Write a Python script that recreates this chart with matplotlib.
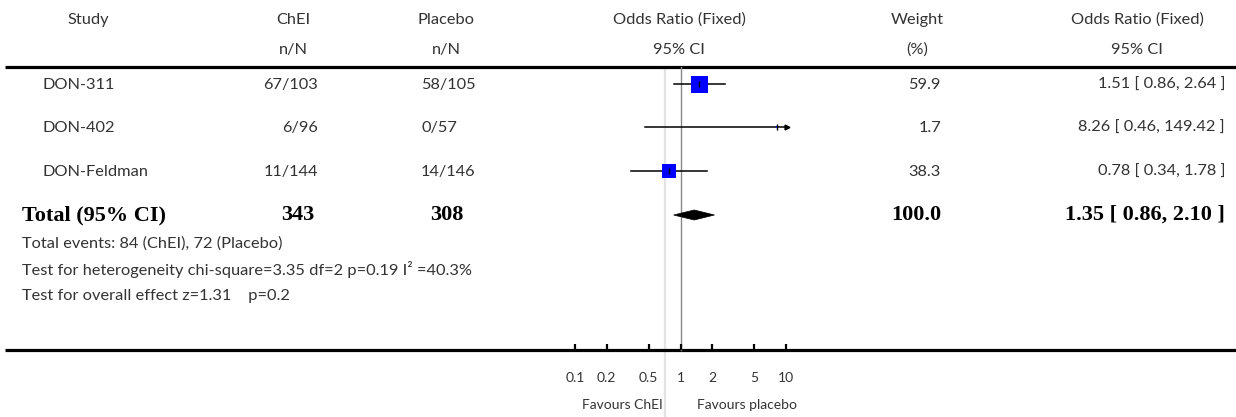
import numpy as np
import matplotlib
matplotlib.use("Agg")
import matplotlib.pyplot as plt
from matplotlib.patches import Polygon

# Study data
studies = ["DON-311", "DON-402", "DON-Feldman"]
chei_events = [67, 6, 11]
chei_total = [103, 96, 144]
placebo_events = [58, 0, 14]
placebo_total = [105, 57, 146]
weights = [59.9, 1.7, 38.3]
odds_ratio = [1.51, 8.26, 0.78]
ci_low = [0.86, 0.46, 0.34]
ci_high = [2.64, 149.42, 1.78]

# Pooled result
total_chei = 343
total_placebo = 308
total_weight = 100.0
total_or = 1.35
total_low = 0.86
total_high = 2.10
events_chei = 84
events_placebo = 72

axis_ticks = [0.1, 0.2, 0.5, 1, 2, 5, 10]
axis_labels = ["0.1", "0.2", "0.5", "1", "2", "5", "10"]

# Layout in pixels
W, H = 1236, 417
x_one = 680.5        # pixel position of OR = 1
px_decade = 105.5    # pixels per decade on the log axis
row_y = [84, 127, 171]
total_y = 215
top_line_y = 67
axis_y = 350

sans = ["Lato", "DejaVu Sans"]
serif = ["Liberation Serif", "DejaVu Serif"]
txt_col = "#333333"
fs = 11.8
fs_bold = 16

fig = plt.figure(figsize=(W / 100, H / 100), dpi=100)

# text layer in pixel coordinates
ax_t = fig.add_axes([0, 0, 1, 1])
ax_t.set_xlim(0, W)
ax_t.set_ylim(H, 0)
ax_t.axis("off")

# forest layer: log x scale mapped onto the same pixels
ax = fig.add_axes([0, 0, 1, 1])
ax.set_xscale("log")
ax.set_xlim(10 ** ((0 - x_one) / px_decade), 10 ** ((W - x_one) / px_decade))
ax.set_ylim(H, 0)
ax.axis("off")
ax.patch.set_alpha(0)


def t(x, y, s, ha="left", bold=False, size=None):
    if bold:
        ax_t.text(x, y, s, ha=ha, va="center", fontsize=fs_bold, family=serif,
                  fontweight="bold", color="black")
    else:
        ax_t.text(x, y, s, ha=ha, va="center", fontsize=size or fs, family=sans, color=txt_col)


# headers
t(88, 20, "Study", ha="center")
t(293, 20, "ChEI", ha="center")
t(293, 50, "n/N", ha="center")
t(446, 20, "Placebo", ha="center")
t(446, 50, "n/N", ha="center")
t(679, 20, "Odds Ratio (Fixed)", ha="center")
t(679, 50, "95% CI", ha="center")
t(917, 20, "Weight", ha="center")
t(917, 50, "(%)", ha="center")
t(1137, 20, "Odds Ratio (Fixed)", ha="center")
t(1137, 50, "95% CI", ha="center")

# horizontal rules
ax_t.plot([5, W], [top_line_y, top_line_y], color="black", lw=2.3, solid_capstyle="butt")
ax_t.plot([5, W], [axis_y, axis_y], color="black", lw=2.3, solid_capstyle="butt")

# faint separator line
ax_t.plot([665, 665], [top_line_y, H], color="#e3e3e3", lw=1.6, zorder=0)

# line of no effect
ax.plot([1, 1], [top_line_y, axis_y], color="#888888", lw=1.0, zorder=1)

x_max = axis_ticks[-1]
for i, name in enumerate(studies):
    y = row_y[i]
    t(43, y + 1, name)
    t(318, y + 1, f"{chei_events[i]}/{chei_total[i]}", ha="right")
    t(421, y + 1, f"{placebo_events[i]}/{placebo_total[i]}")
    t(941, y + 1, f"{weights[i]:.1f}", ha="right")
    t(1225, y + 1, f"{odds_ratio[i]:.2f} [ {ci_low[i]:.2f}, {ci_high[i]:.2f} ]", ha="right")

    hi = ci_high[i]
    if hi > x_max:
        ax.plot([ci_low[i], x_max * 1.02], [y, y], color="black", lw=1.1, zorder=2)
        ax.plot([x_max * 1.02], [y], marker=">", color="black", markersize=3.5, zorder=2)
    else:
        ax.plot([ci_low[i], hi], [y, y], color="black", lw=1.1, zorder=2)
    side_px = 17 * np.sqrt(weights[i] / weights[0])
    ax.plot([odds_ratio[i]], [y], marker="s", color="#0000ff", markersize=side_px * 0.72,
            markeredgewidth=0, zorder=3)
    ax.plot([odds_ratio[i]], [y], marker="|", color="black", markersize=4, markeredgewidth=1, zorder=4)

# total row
t(22, total_y, "Total (95% CI)", bold=True)
t(314, total_y, f"{total_chei}", ha="right", bold=True)
t(430, total_y, f"{total_placebo}", bold=True)
t(941, total_y, f"{total_weight:.1f}", ha="right", bold=True)
t(1225, total_y, f"{total_or:.2f} [ {total_low:.2f}, {total_high:.2f} ]", ha="right", bold=True)

diamond = Polygon([(total_low, total_y), (total_or, total_y - 5),
                   (total_high, total_y), (total_or, total_y + 5)],
                  closed=True, facecolor="black", edgecolor="black", lw=0.5, zorder=3)
ax.add_patch(diamond)

# footnotes
t(22, 244, f"Total events: {events_chei} (ChEI), {events_placebo} (Placebo)")
t(22, 270, "Test for heterogeneity chi-square=3.35 df=2 p=0.19 I² =40.3%")
t(22, 296, "Test for overall effect z=1.31    p=0.2")

# axis ticks and labels
ax.vlines(axis_ticks, axis_y - 6, axis_y, color="black", lw=1.6)
for v, lab in zip(axis_ticks, axis_labels):
    ax.text(v, 378, lab, ha="center", va="center", fontsize=10, family=sans, color=txt_col)

t(663, 405, "Favours ChEI", ha="right", size=10)
t(697, 405, "Favours placebo", size=10)

fig.savefig("out.png", dpi=100)
